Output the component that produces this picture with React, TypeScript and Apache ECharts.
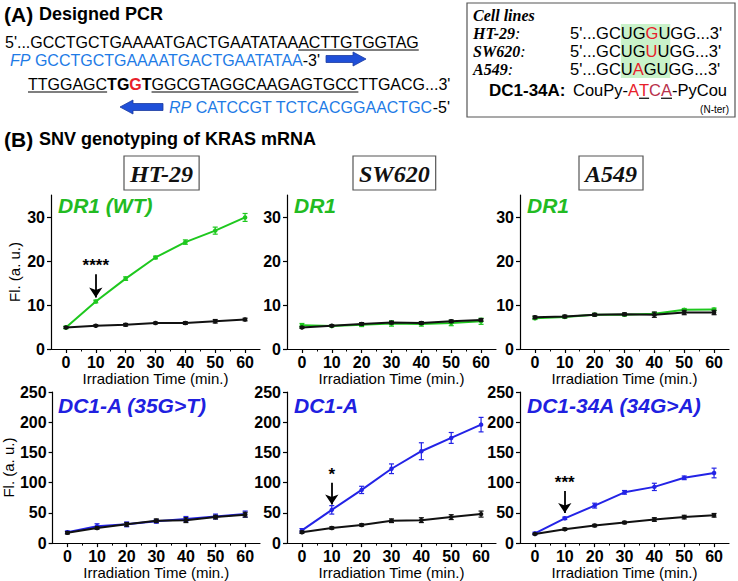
import React, { useEffect, useRef } from "react";
import * as echarts from "echarts";

// ---------- data ----------
const times = [0, 10, 20, 30, 40, 50, 60];
const xTickLabels = [0, 10, 20, 30, 40, 50, 60];
const xMinorTicks = [5, 15, 25, 35, 45, 55];
const topYTicks = [0, 10, 20, 30];
const bottomYTicks = [0, 50, 100, 150, 200, 250];
const cellLines = ["HT-29", "SW620", "A549"];
const probeLabels = ["DR1 (WT)", "DR1", "DR1", "DC1-A (35G>T)", "DC1-A", "DC1-34A (34G>A)"];

const ht29Dr1 = [4.9, 10.8, 16.0, 20.8, 24.3, 26.9, 29.9];
const ht29Dr1Err = [0.3, 0.3, 0.4, 0.3, 0.5, 0.8, 0.9];
const ht29Dr1Ctrl = [4.9, 5.3, 5.5, 5.9, 5.9, 6.3, 6.7];
const ht29Dr1CtrlErr = [0.2, 0.2, 0.3, 0.2, 0.3, 0.4, 0.3];

const sw620Dr1 = [5.4, 5.2, 5.5, 5.8, 5.7, 5.9, 6.3];
const sw620Dr1Err = [0.4, 0.2, 0.4, 0.6, 0.5, 0.6, 0.7];
const sw620Dr1Ctrl = [4.9, 5.3, 5.7, 6.0, 5.9, 6.3, 6.6];
const sw620Dr1CtrlErr = [0.2, 0.2, 0.3, 0.3, 0.3, 0.3, 0.3];

const a549Dr1 = [7.0, 7.3, 7.8, 7.8, 8.0, 8.9, 9.0];
const a549Dr1Err = [0.3, 0.3, 0.3, 0.3, 0.3, 0.3, 0.3];
const a549Dr1Ctrl = [7.2, 7.4, 7.8, 7.9, 7.8, 8.3, 8.3];
const a549Dr1CtrlErr = [0.3, 0.3, 0.3, 0.3, 0.6, 0.5, 0.5];

const ht29Dc1a = [18, 28, 31, 36, 40, 44, 48];
const ht29Dc1aErr = [2, 4, 4, 3, 4, 4, 5];
const ht29Dc1aCtrl = [17, 25, 31, 37, 38, 43, 47];
const ht29Dc1aCtrlErr = [2, 2, 3, 3, 4, 3, 4];

const sw620Dc1a = [21, 55, 88, 123, 152, 174, 196];
const sw620Dc1aErr = [3, 7, 6, 8, 14, 9, 12];
const sw620Dc1aCtrl = [18, 25, 30, 37, 38, 43, 48];
const sw620Dc1aCtrlErr = [2, 2, 2, 3, 4, 4, 5];

const a549Dc134a = [16, 41, 62, 84, 93, 108, 116];
const a549Dc134aErr = [2, 2, 4, 3, 6, 3, 8];
const a549Dc134aCtrl = [15, 23, 29, 34, 39, 43, 46];
const a549Dc134aCtrlErr = [1, 2, 2, 2, 3, 3, 3];

// significance annotations (label, arrow top value, arrow bottom value) at t = 10
const sigLabels = ["****", "", "", "", "*", "***"];
const sigArrowTop = [17.0, 0, 0, 0, 100, 86];
const sigArrowBottom = [11.7, 0, 0, 0, 64, 50];

// ---------- styles ----------
const GREEN = "#1ec81e";
const BLUE = "#2323e6";
const BLACK = "#111111";
const SANS = "'Liberation Sans', Arial, sans-serif";
const SERIF = "'Liberation Serif', 'Times New Roman', serif";

const colLeft = [51, 287, 520];
const gridW = 209;
const rowTop = [195, 392];
const rowH = [154, 153.5];

const panels = [
  { t: ht29Dr1, te: ht29Dr1Err, c: ht29Dr1Ctrl, ce: ht29Dr1CtrlErr, color: GREEN },
  { t: sw620Dr1, te: sw620Dr1Err, c: sw620Dr1Ctrl, ce: sw620Dr1CtrlErr, color: GREEN },
  { t: a549Dr1, te: a549Dr1Err, c: a549Dr1Ctrl, ce: a549Dr1CtrlErr, color: GREEN },
  { t: ht29Dc1a, te: ht29Dc1aErr, c: ht29Dc1aCtrl, ce: ht29Dc1aCtrlErr, color: BLUE },
  { t: sw620Dc1a, te: sw620Dc1aErr, c: sw620Dc1aCtrl, ce: sw620Dc1aCtrlErr, color: BLUE },
  { t: a549Dc134a, te: a549Dc134aErr, c: a549Dc134aCtrl, ce: a549Dc134aCtrlErr, color: BLUE },
];

let measureCtx: CanvasRenderingContext2D | null = null;
function textW(t: string, font: string) {
  if (!measureCtx) measureCtx = document.createElement("canvas").getContext("2d");
  measureCtx!.font = font;
  return measureCtx!.measureText(t).width;
}

type Seg = { t: string; c?: string; b?: boolean; i?: boolean; u?: boolean; f?: string; s?: number };
// one rich text element per line; underlines drawn from measured widths
function segs(x0: number, y: number, list: Seg[], size: number, family: string, els: any[]) {
  let x = x0;
  const rich: any = {};
  let text = "";
  list.forEach((s, k) => {
    const sz = s.s ?? size;
    const fam = s.f ?? family;
    const font = `${s.i ? "italic " : ""}${s.b ? "bold " : ""}${sz}px ${fam}`;
    const w = textW(s.t, font);
    rich["s" + k] = {
      fill: s.c ?? "#000",
      color: s.c ?? "#000",
      fontSize: sz,
      fontFamily: fam,
      fontWeight: s.b ? "bold" : "normal",
      fontStyle: s.i ? "italic" : "normal",
    };
    text += `{s${k}|${s.t}}`;
    if (s.u) {
      els.push({
        type: "line",
        shape: { x1: x, y1: y + sz * 0.5, x2: x + w, y2: y + sz * 0.5 },
        style: { stroke: "#000", lineWidth: 1.2 },
      });
    }
    x += w;
  });
  els.push({
    type: "text",
    x: x0,
    y,
    style: {
      text,
      rich,
      fontSize: size,
      fontFamily: family,
      align: "left",
      verticalAlign: "middle",
      textAlign: "left",
      textVerticalAlign: "middle",
    },
  });
  return x;
}

function rightArrow(x1: number, x2: number, y: number) {
  const hl = 13;
  return {
    type: "polygon",
    shape: {
      points: [
        [x1, y - 3.5], [x2 - hl, y - 3.5], [x2 - hl, y - 7], [x2, y], [x2 - hl, y + 7], [x2 - hl, y + 3.5], [x1, y + 3.5],
      ],
    },
    style: { fill: "#1f4fd8", stroke: "#1a3aa0", lineWidth: 0.8 },
  };
}
function leftArrow(x1: number, x2: number, y: number) {
  const hl = 13;
  return {
    type: "polygon",
    shape: {
      points: [
        [x2, y - 3.5], [x1 + hl, y - 3.5], [x1 + hl, y - 7], [x1, y], [x1 + hl, y + 7], [x1 + hl, y + 3.5], [x2, y + 3.5],
      ],
    },
    style: { fill: "#1f4fd8", stroke: "#1a3aa0", lineWidth: 0.8 },
  };
}

function buildGraphic() {
  const els: any[] = [];
  const SEQ_BLUE = "#1e7be6";
  // (A)
  segs(4, 14, [{ t: "(A) ", b: true, s: 21 }, { t: "Designed PCR", b: true, s: 18 }], 18, SANS, els);
  segs(5, 42, [{ t: "5'...GCCTGCTGAAAATGACTGAATATAA" }, { t: "ACTTGTGGTAG", u: true }], 16, SANS, els);
  const l2end = segs(10, 60, [
    { t: "FP ", c: SEQ_BLUE, i: true, b: false },
    { t: "GCCTGCTGAAAATGACTGAATATAA", c: SEQ_BLUE },
    { t: "-3'" },
  ], 16, SANS, els);
  els.push(rightArrow(l2end + 6, l2end + 46, 59));
  segs(28, 84, [
    { t: "TTGGAGC", u: true },
    { t: "TG", b: true },
    { t: "G", b: true, c: "#e8202a" },
    { t: "T", b: true },
    { t: "GGCGTAGGCAAGAGTGCC", u: true },
    { t: "TTGACG...3'" },
  ], 16, SANS, els);
  els.push(leftArrow(120, 163, 107));
  segs(169, 107, [
    { t: "RP ", c: SEQ_BLUE, i: true },
    { t: "CATCCGT TCTCACGGAACTGC", c: SEQ_BLUE },
    { t: "-5'" },
  ], 16, SANS, els);

  // cell line box
  els.push({ type: "rect", shape: { x: 467, y: 3, width: 268, height: 114 }, style: { fill: "none", stroke: "#555", lineWidth: 1.2 } });
  const seqX = 570;
  const SQ = 16.5;
  const rows = [15, 33, 51, 69];
  const seqFont = `${SQ}px ${SANS}`;
  const hlX = seqX + textW("5'...GC", seqFont);
  const hlW = textW("UGGU", seqFont);
  els.push({ type: "rect", shape: { x: hlX, y: rows[1] - 9, width: hlW, height: rows[3] - rows[1] + 18 }, style: { fill: "#c9f2c9" } });
  segs(473, rows[0], [{ t: "Cell lines", b: true, i: true }], 16, SERIF, els);
  segs(473, rows[1], [{ t: "HT-29", b: true, i: true }, { t: ":", i: true }], 16, SERIF, els);
  segs(473, rows[2], [{ t: "SW620", b: true, i: true }, { t: ":", i: true }], 16, SERIF, els);
  segs(473, rows[3], [{ t: "A549", b: true, i: true }, { t: ":", i: true }], 16, SERIF, els);
  segs(seqX, rows[1], [{ t: "5'...GCUG" }, { t: "G", c: "#e8202a" }, { t: "UGG...3'" }], SQ, SANS, els);
  segs(seqX, rows[2], [{ t: "5'...GCUG" }, { t: "U", c: "#e8202a" }, { t: "UGG...3'" }], SQ, SANS, els);
  segs(seqX, rows[3], [{ t: "5'...GCU" }, { t: "A", c: "#e8202a" }, { t: "GUGG...3'" }], SQ, SANS, els);
  segs(489, 90, [{ t: "DC1-34A:", b: true }], 17, SANS, els);
  segs(573, 90, [
    { t: "CouPy-" },
    { t: "A", c: "#e8202a" },
    { t: "T", c: "#e8202a", u: true },
    { t: "C", c: "#b8304a" },
    { t: "A", c: "#b8304a", u: true },
    { t: "-PyCou" },
  ], 16.5, SANS, els);
  els.push({
    type: "text", x: 729, y: 109,
    style: { text: "(N-ter)", fill: "#000", fontSize: 10, fontFamily: SANS, align: "right", verticalAlign: "middle", textAlign: "right", textVerticalAlign: "middle" },
  });

  // (B)
  segs(4, 139, [{ t: "(B) ", b: true, s: 21 }, { t: "SNV genotyping of KRAS mRNA", b: true, s: 18 }], 18, SANS, els);

  // cell line header boxes
  const boxX = [124, 353, 579];
  cellLines.forEach((name, i) => {
    const font = `italic bold 24px ${SERIF}`;
    const w = textW(name, font) + 12;
    els.push({ type: "rect", shape: { x: boxX[i], y: 156, width: w, height: 34 }, style: { fill: "#fff", stroke: "#555", lineWidth: 1.2 } });
    els.push({
      type: "text", x: boxX[i] + w / 2, y: 174,
      style: { text: name, fill: "#111", fontSize: 24, fontFamily: SERIF, fontWeight: "bold", fontStyle: "italic", align: "center", verticalAlign: "middle", textAlign: "center", textVerticalAlign: "middle" },
    });
  });

  // probe labels in panels
  probeLabels.forEach((lab, i) => {
    const row = Math.floor(i / 3), col = i % 3;
    els.push({
      type: "text", x: colLeft[col] + 7, y: row === 0 ? 205 : 405,
      style: { text: lab, fill: row === 0 ? "#22bb22" : "#2020e0", fontSize: 21, fontFamily: SANS, fontWeight: "bold", fontStyle: "italic", align: "left", verticalAlign: "middle", textAlign: "left", textVerticalAlign: "middle" },
    });
  });
  return els;
}

function errSeries(xi: number, yi: number, vals: number[], errs: number[], color: string, z: number) {
  return {
    type: "custom",
    xAxisIndex: xi,
    yAxisIndex: yi,
    z,
    silent: true,
    data: times.map((t, k) => [t, vals[k] - errs[k], vals[k] + errs[k]]),
    encode: { x: 0, y: [1, 2] },
    renderItem: (params: any, api: any) => {
      const x = api.value(0);
      const a = api.coord([x, api.value(2)]);
      const b = api.coord([x, api.value(1)]);
      const cw = 2.5;
      const st = { stroke: color, lineWidth: 1.2 };
      return {
        type: "group",
        children: [
          { type: "line", shape: { x1: a[0], y1: a[1], x2: b[0], y2: b[1] }, style: st },
          { type: "line", shape: { x1: a[0] - cw, y1: a[1], x2: a[0] + cw, y2: a[1] }, style: st },
          { type: "line", shape: { x1: b[0] - cw, y1: b[1], x2: b[0] + cw, y2: b[1] }, style: st },
        ],
      };
    },
  };
}

function buildOption() {
  const grid: any[] = [];
  const xAxis: any[] = [];
  const yAxis: any[] = [];
  const series: any[] = [];
  const axisLine = { show: true, onZero: false, lineStyle: { color: "#000", width: 1.2 } };
  panels.forEach((p, i) => {
    const row = Math.floor(i / 3), col = i % 3;
    grid.push({ left: colLeft[col], top: rowTop[row], width: gridW, height: rowH[row] });
    xAxis.push({
      type: "value", gridIndex: i, min: -5, max: 65, position: "bottom",
      axisLine,
      axisTick: { show: true, customValues: xTickLabels, length: 4, lineStyle: { color: "#000", width: 1.2 } },
      axisLabel: { customValues: xTickLabels, color: "#000", fontSize: 16, fontWeight: "bold", fontFamily: SANS, margin: 5 },
      splitLine: { show: false },
      name: "Irradiation Time (min.)", nameLocation: "middle", nameGap: row === 0 ? 20 : 19,
      nameTextStyle: { color: "#000", fontSize: 15, fontFamily: SANS },
    });
    xAxis.push({
      type: "value", gridIndex: i, min: -5, max: 65, position: "bottom",
      axisLine: { show: false },
      axisTick: { show: true, customValues: xMinorTicks, length: 2.5, lineStyle: { color: "#000", width: 1 } },
      axisLabel: { show: false },
      splitLine: { show: false },
    });
    const yt = row === 0 ? topYTicks : bottomYTicks;
    yAxis.push({
      type: "value", gridIndex: i, min: 0, max: row === 0 ? 35 : 250,
      axisLine,
      axisTick: { show: true, customValues: yt, length: 4, lineStyle: { color: "#000", width: 1.2 } },
      axisLabel: { customValues: yt, color: "#000", fontSize: 16, fontWeight: "bold", fontFamily: SANS, margin: 6 },
      splitLine: { show: false },
      name: col === 0 ? "Fl. (a. u.)" : "",
      nameLocation: "middle", nameGap: 29,
      nameTextStyle: { color: "#000", fontSize: 15, fontFamily: SANS },
    });
    const xi = i * 2;
    const target: any = {
      type: "line", xAxisIndex: xi, yAxisIndex: i, z: 3,
      data: times.map((t, k) => [t, p.t[k]]),
      symbol: "circle", symbolSize: 4.5, showSymbol: true,
      lineStyle: { color: p.color, width: 2 }, itemStyle: { color: p.color },
    };
    if (sigLabels[i]) {
      target.markLine = {
        silent: true,
        symbol: ["none", "arrow"], symbolSize: 10,
        lineStyle: { color: "#000", width: 1.8, type: "solid" },
        label: { show: true, position: "start", formatter: sigLabels[i], color: "#000", fontSize: 17, fontWeight: "bold", fontFamily: SANS, distance: 0 },
        data: [[{ coord: [10, sigArrowTop[i]] }, { coord: [10, sigArrowBottom[i]] }]],
      };
    }
    series.push(target);
    series.push(errSeries(xi, i, p.t, p.te, p.color, 3));
    series.push({
      type: "line", xAxisIndex: xi, yAxisIndex: i, z: 4,
      data: times.map((t, k) => [t, p.c[k]]),
      symbol: "circle", symbolSize: 4.5, showSymbol: true,
      lineStyle: { color: BLACK, width: 2 }, itemStyle: { color: BLACK },
    });
    series.push(errSeries(xi, i, p.c, p.ce, BLACK, 4));
  });
  return {
    animation: false,
    backgroundColor: "#ffffff",
    textStyle: { fontFamily: SANS },
    grid, xAxis, yAxis, series,
    graphic: buildGraphic(),
  };
}

export default function App() {
  const ref = useRef<HTMLDivElement>(null);
  useEffect(() => {
    if (!ref.current) return;
    const chart = echarts.init(ref.current, undefined, { renderer: "svg" });
    chart.setOption(buildOption() as any);
    return () => chart.dispose();
  }, []);
  return (
    <div
      ref={ref}
      style={{ position: "absolute", left: 0, top: 0, width: 738, height: 581, background: "#fff" }}
    />
  );
}
